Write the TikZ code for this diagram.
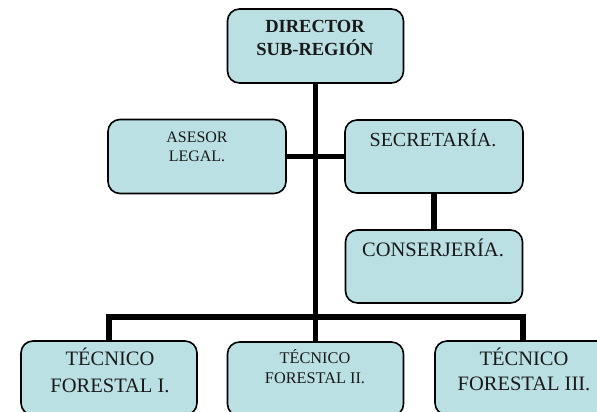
\documentclass[tikz,border=0pt]{standalone}
\usepackage{fontspec}
\setmainfont{Liberation Serif}
\definecolor{boxfill}{HTML}{BBE0E3}
\newcommand\twolines[2]{\begin{tabular}[t]{@{}c@{}}#1\\#2\end{tabular}}
\tikzset{
  orgbox/.style={draw=black, line width=1.6pt, fill=boxfill, rounded corners=12pt,
    inner sep=0pt, minimum width=176pt, minimum height=74pt},
  boxtext/.style={anchor=base, inner sep=0pt, text=black!90},
  conn/.style={draw=black, line width=5.5pt, line join=miter}
}
\begin{document}
\begin{tikzpicture}[x=1pt, y=-1pt]
\useasboundingbox (0,0) rectangle (597,412);
\clip (0,0) rectangle (597,412);
% boxes
\node[orgbox] (dir) at (315.5,46) {};
\node[orgbox, minimum width=178pt] (ase) at (197,156.5) {};
\node[orgbox, minimum width=178pt, minimum height=73pt] (sec) at (434,156.5) {};
\node[orgbox, minimum width=177pt, minimum height=73pt] (con) at (434,266.5) {};
\node[orgbox] (t1) at (109,378) {};
\node[orgbox] (t2) at (315.5,379) {};
\node[orgbox] (t3) at (523,378) {};
% texts
\node[boxtext, font={\fontsize{18.5}{22}\selectfont\bfseries}] (dirt) at (315,33) {\twolines{DIRECTOR}{SUB-REGIÓN}};
\node[boxtext, font={\fontsize{16}{19}\selectfont}] (aset) at (197,142) {\twolines{ASESOR}{LEGAL.}};
\node[boxtext, font={\fontsize{20}{24}\selectfont}] (sect) at (433,146) {SECRETARÍA.};
\node[boxtext, font={\fontsize{20.5}{24}\selectfont}] (cont) at (433,256) {CONSERJERÍA.};
\node[boxtext, font={\fontsize{20.5}{27}\selectfont}] (t1t) at (110,365) {\twolines{TÉCNICO}{FORESTAL I.}};
\node[boxtext, font={\fontsize{16.3}{20}\selectfont}] (t2t) at (315,363) {\twolines{TÉCNICO}{FORESTAL II.}};
\node[boxtext, font={\fontsize{20.5}{25}\selectfont}] (t3t) at (524,365) {\twolines{TÉCNICO}{FORESTAL III.}};
% connectors
\coordinate (bus) at (315.5,317);
\draw[conn] (dir.south) -- (dir.south |- bus);
\draw[conn] (ase.east) -- (sec.west);
\draw[conn] (sec.south) -- (con.north);
\draw[conn] (t1.north) -- (t1.north |- bus) -- (t3.north |- bus) -- (t3.north);
\draw[conn] (bus) -- (t2.north);
\end{tikzpicture}
\end{document}
